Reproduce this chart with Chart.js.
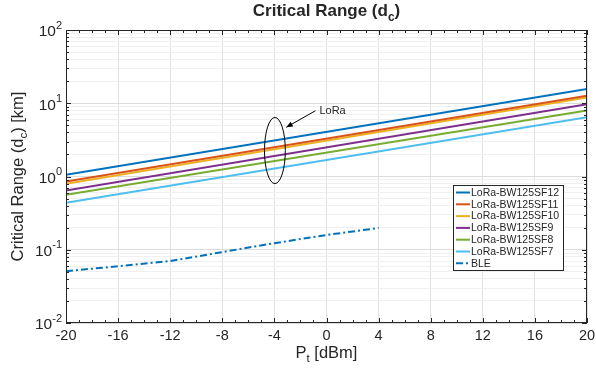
<!DOCTYPE html>
<html>
<head>
<meta charset="utf-8">
<script src="https://cdn.jsdelivr.net/npm/chart.js@4"></script>
<style>
  html, body { margin: 0; padding: 0; background: #fff; }
</style>
</head>
<body>
<canvas id="chart" width="596" height="371"></canvas>
<script>
// transmit power [dBm]
const ptLoRa = [-20, 20];
const ptBLE = [-20, -16, -12, -8, -4, 0, 4];

// critical range [km]
const sf12 = [1.055, 15.7];
const sf11 = [0.855, 12.7];
const sf10 = [0.795, 12.0];
const sf9 = [0.644, 9.7];
const sf8 = [0.563, 7.95];
const sf7 = [0.438, 6.44];
const ble = [0.051, 0.0595, 0.07, 0.093, 0.123, 0.159, 0.198];

const xTickValues = [-20, -16, -12, -8, -4, 0, 4, 8, 12, 16, 20];
const yDecades = [-2, -1, 0, 1, 2];

const labels = ['LoRa-BW125SF12', 'LoRa-BW125SF11', 'LoRa-BW125SF10', 'LoRa-BW125SF9', 'LoRa-BW125SF8', 'LoRa-BW125SF7', 'BLE'];
const colors = ['#0072BD', '#D95319', '#EDB120', '#7E2F8E', '#77AC30', '#4DBEEE', '#0072BD'];

const TXT = '#262626';
const FONT = '"Liberation Sans", Arial, Helvetica, sans-serif';

function pairs(xs, ys) {
  return xs.map((x, i) => ({ x, y: ys[i] }));
}

const loraSeries = [sf12, sf11, sf10, sf9, sf8, sf7];
const datasets = loraSeries.map((s, i) => ({
  label: labels[i],
  data: pairs(ptLoRa, s),
  borderColor: colors[i],
  borderWidth: 2,
  pointRadius: 0,
  fill: false,
}));
datasets.push({
  label: labels[6],
  data: pairs(ptBLE, ble),
  borderColor: colors[6],
  borderWidth: 2,
  borderDash: [7, 3, 2, 3],
  pointRadius: 0,
  fill: false,
});

// draws text with sub/superscript pieces
function drawParts(ctx, parts, x, y, size, bold, align, small) {
  const weight = bold ? 'bold ' : '';
  const ss = small || size * 0.7;
  let total = 0;
  const widths = parts.map((p) => {
    const s = p.sub || p.sup ? ss : size;
    ctx.font = `${weight}${s}px ${FONT}`;
    const w = ctx.measureText(p.t).width;
    total += w;
    return w;
  });
  let cx = align === 'center' ? x - total / 2 : align === 'right' ? x - total : x;
  parts.forEach((p, i) => {
    const s = p.sub || p.sup ? ss : size;
    ctx.font = `${weight}${s}px ${FONT}`;
    ctx.textAlign = 'left';
    ctx.textBaseline = 'middle';
    let dy = 0;
    if (p.sub) dy = size * 0.38;
    if (p.sup) dy = -size * 0.42;
    ctx.fillText(p.t, cx, y + dy);
    cx += widths[i];
  });
}

const decorPlugin = {
  id: 'decor',
  beforeDraw(chart) {
    const ctx = chart.ctx;
    ctx.save();
    ctx.fillStyle = '#fff';
    ctx.fillRect(0, 0, chart.width, chart.height);
    ctx.restore();
  },
  afterDraw(chart) {
    const ctx = chart.ctx;
    const a = chart.chartArea;
    const xs = chart.scales.x;
    const ys = chart.scales.y;
    ctx.save();

    // box
    ctx.strokeStyle = TXT;
    ctx.lineWidth = 1;
    ctx.strokeRect(a.left + 0.5, a.top + 0.5, a.right - a.left - 1, a.bottom - a.top - 1);

    // x ticks (major every 4, minor every 1)
    ctx.beginPath();
    for (let v = -20; v <= 20; v++) {
      const px = Math.round(xs.getPixelForValue(v)) + 0.5;
      const len = v % 4 === 0 ? 5 : 3;
      ctx.moveTo(px, a.bottom);
      ctx.lineTo(px, a.bottom - len);
      ctx.moveTo(px, a.top);
      ctx.lineTo(px, a.top + len);
    }
    // y ticks
    for (let d = -2; d <= 1; d++) {
      for (let m = 1; m <= 9; m++) {
        const py = Math.round(ys.getPixelForValue(m * Math.pow(10, d))) + 0.5;
        const len = m === 1 ? 5 : 3;
        ctx.moveTo(a.left, py);
        ctx.lineTo(a.left + len, py);
        ctx.moveTo(a.right, py);
        ctx.lineTo(a.right - len, py);
      }
    }
    ctx.stroke();

    // x tick labels
    ctx.fillStyle = TXT;
    ctx.font = `14.5px ${FONT}`;
    ctx.textAlign = 'center';
    ctx.textBaseline = 'middle';
    xTickValues.forEach((v) => {
      ctx.fillText(String(v), xs.getPixelForValue(v), a.bottom + 13);
    });

    // y tick labels 10^n
    yDecades.forEach((d) => {
      const py = ys.getPixelForValue(Math.pow(10, d));
      drawParts(ctx, [{ t: '10' }, { t: String(d), sup: true }], a.left - 4, py + 2, 15.5, false, 'right', 11);
    });

    // axis titles
    drawParts(ctx, [{ t: 'P' }, { t: 't', sub: true }, { t: ' [dBm]' }], (a.left + a.right) / 2, a.bottom + 30, 16.5, false, 'center');
    ctx.save();
    ctx.translate(18, (a.top + a.bottom) / 2);
    ctx.rotate(-Math.PI / 2);
    drawParts(ctx, [{ t: 'Critical Range (d' }, { t: 'c', sub: true }, { t: ') [km]' }], 0, 0, 16.5, false, 'center');
    ctx.restore();

    // title
    drawParts(ctx, [{ t: 'Critical Range (d' }, { t: 'c', sub: true }, { t: ')' }], (a.left + a.right) / 2, 11, 17, true, 'center');

    // ellipse around LoRa curves
    const ex = xs.getPixelForValue(-4);
    const ex2 = xs.getPixelForValue(-3.2);
    const eyTop = ys.getPixelForValue(6.4);
    const eyBot = ys.getPixelForValue(0.8);
    ctx.strokeStyle = '#000';
    ctx.lineWidth = 1;
    ctx.beginPath();
    ctx.ellipse(ex + 0.5, (eyTop + eyBot) / 2, ex2 - ex, (eyBot - eyTop) / 2, 0, 0, Math.PI * 2);
    ctx.stroke();

    // arrow + label
    const hx = ex2 + 1.5, hy = ys.getPixelForValue(4.7);
    const tx = xs.getPixelForValue(-0.85), ty = ys.getPixelForValue(7.9);
    ctx.beginPath();
    ctx.moveTo(tx, ty);
    ctx.lineTo(hx, hy);
    ctx.stroke();
    const ang = Math.atan2(hy - ty, hx - tx);
    ctx.fillStyle = '#000';
    ctx.beginPath();
    ctx.moveTo(hx, hy);
    ctx.lineTo(hx - 7 * Math.cos(ang - 0.4), hy - 7 * Math.sin(ang - 0.4));
    ctx.lineTo(hx - 7 * Math.cos(ang + 0.4), hy - 7 * Math.sin(ang + 0.4));
    ctx.closePath();
    ctx.fill();
    ctx.fillStyle = TXT;
    ctx.font = `11px ${FONT}`;
    ctx.textAlign = 'left';
    ctx.textBaseline = 'middle';
    ctx.fillText('LoRa', tx + 4, ty);

    // legend
    const lx = 453, ly = 185, lw = 110, lh = 85;
    ctx.fillStyle = '#fff';
    ctx.fillRect(lx, ly, lw, lh);
    ctx.strokeStyle = TXT;
    ctx.strokeRect(lx + 0.5, ly + 0.5, lw, lh);
    chart.data.datasets.forEach((ds, i) => {
      const ry = ly + 7.5 + i * 11.8;
      ctx.strokeStyle = ds.borderColor;
      ctx.lineWidth = 2;
      ctx.setLineDash(ds.borderDash || []);
      ctx.beginPath();
      ctx.moveTo(lx + 3, ry);
      ctx.lineTo(lx + 17, ry);
      ctx.stroke();
      ctx.setLineDash([]);
      ctx.fillStyle = TXT;
      ctx.font = `10.5px ${FONT}`;
      ctx.textAlign = 'left';
      ctx.textBaseline = 'middle';
      ctx.fillText(ds.label, lx + 18, ry + 0.5);
    });

    ctx.restore();
  },
};

new Chart(document.getElementById('chart'), {
  type: 'line',
  data: { datasets },
  options: {
    responsive: false,
    animation: false,
    devicePixelRatio: 1,
    layout: { padding: { left: 66, right: 9, top: 30, bottom: 48 } },
    plugins: { legend: { display: false }, tooltip: { enabled: false } },
    scales: {
      x: {
        type: 'linear',
        min: -20,
        max: 20,
        ticks: { display: false, stepSize: 4 },
        grid: { color: '#e2e2e2', drawTicks: false },
        border: { display: false },
      },
      y: {
        type: 'logarithmic',
        min: 0.01,
        max: 100,
        ticks: { display: false },
        afterBuildTicks: (scale) => {
          const t = [];
          for (let d = -2; d <= 1; d++) {
            for (let m = 1; m <= 9; m++) t.push({ value: m * Math.pow(10, d) });
          }
          t.push({ value: 100 });
          scale.ticks = t;
        },
        grid: {
          drawTicks: false,
          color: (c) => {
            const v = c.tick && c.tick.value;
            const l = Math.log10(v);
            return Math.abs(l - Math.round(l)) < 1e-6 ? '#dcdcdc' : '#f0f0f0';
          },
        },
        border: { display: false },
      },
    },
  },
  plugins: [decorPlugin],
});
</script>
</body>
</html>
